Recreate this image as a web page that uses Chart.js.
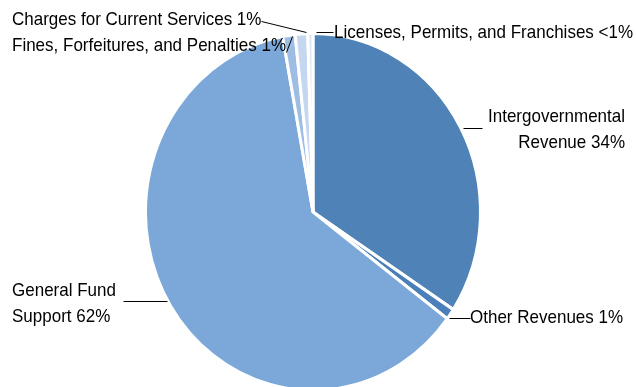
<!DOCTYPE html>
<html><head><meta charset="utf-8">
<script src="https://cdn.jsdelivr.net/npm/chart.js@4.4.1/dist/chart.umd.min.js"></script>
<style>html,body{margin:0;padding:0;background:#fff}#wrap{width:637px;height:387px;position:relative}</style>
</head><body><div id="wrap"><canvas id="c" width="637" height="387"></canvas></div>
<script>
const categories = ["Intergovernmental Revenue","Other Revenues","General Fund Support","Fines, Forfeitures, and Penalties","Charges for Current Services","Licenses, Permits, and Franchises"];
const values = [34.2, 1.0, 61.9, 1.2, 1.2, 0.5];
const labelLines = [
  ["Intergovernmental","Revenue 34%"],
  ["Other Revenues 1%"],
  ["General Fund","Support 62%"],
  ["Fines, Forfeitures, and Penalties 1%"],
  ["Charges for Current Services 1%"],
  ["Licenses, Permits, and Franchises <1%"]
];
const colors = ["#4f83b7","#4a7fba","#7ba8d9","#9dbde4","#c4d7ee","#dde8f5"];

// annotation layout: text anchor, alignment, leader line
const labelLayout = [
  {x:625, y:117, align:"right", line:[463,128,482,128]},
  {x:470, y:318, align:"left",  line:[449,318,470,318]},
  {x:12,  y:291, align:"left",  line:[123,301,167,301]},
  {x:12,  y:46,  align:"left",  line:[286,52,292,36]},
  {x:12,  y:20,  align:"left",  line:[261,21,306,32]},
  {x:334, y:33,  align:"left",  line:[316,32,333,32]}
];
const SY = 1.066;

const ellipse = {
  id:"ellipse",
  beforeDatasetsDraw(chart){
    const a = chart.chartArea, cx=(a.left+a.right)/2, cy=(a.top+a.bottom)/2;
    const ctx=chart.ctx; ctx.save(); ctx.translate(cx,cy); ctx.scale(1,SY); ctx.translate(-cx,-cy);
  },
  afterDatasetsDraw(chart){ chart.ctx.restore(); }
};
const labels = {
  id:"pieLabels",
  afterDraw(chart){
    const ctx=chart.ctx; ctx.save();
    ctx.fillStyle="#000"; ctx.strokeStyle="#000"; ctx.lineWidth=1;
    ctx.font='17px "Liberation Sans Narrow", "Liberation Sans", Arial, sans-serif';
    ctx.textBaseline="middle";
    labelLines.forEach((lines,i)=>{
      const L=labelLayout[i];
      ctx.textAlign=L.align;
      lines.forEach((t,j)=>{
        ctx.save(); ctx.translate(L.x, L.y+j*26); ctx.scale(1,SY);
        ctx.fillText(t,0,0); ctx.restore();
      });
      ctx.beginPath(); ctx.moveTo(L.line[0]+0.5,L.line[1]+0.5); ctx.lineTo(L.line[2]+0.5,L.line[3]+0.5); ctx.stroke();
    });
    ctx.restore();
  }
};

new Chart(document.getElementById("c"),{
  type:"pie",
  data:{labels:categories,datasets:[{data:values,backgroundColor:colors,borderColor:"#fff",borderWidth:3}]},
  options:{
    responsive:false, animation:false,
    layout:{padding:{left:144,right:155,top:43,bottom:6}},
    plugins:{legend:{display:false},tooltip:{enabled:false}}
  },
  plugins:[ellipse,labels]
});
</script></body></html>
